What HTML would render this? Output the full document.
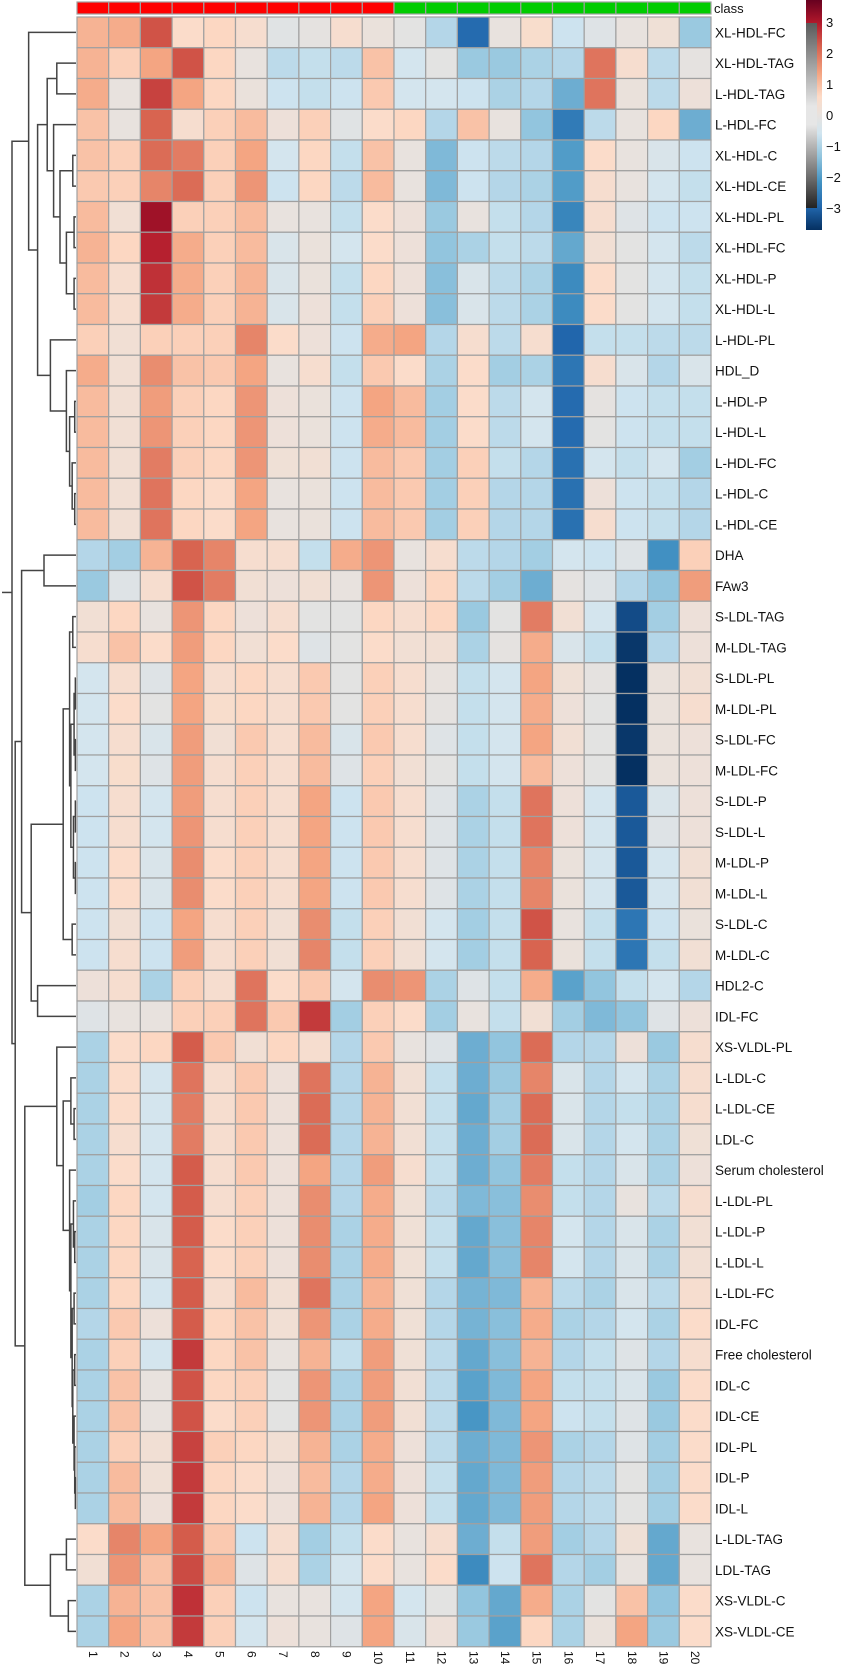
<!DOCTYPE html>
<html><head><meta charset="utf-8"><style>
body{margin:0;background:#fff;}
svg{display:block;font-family:"Liberation Sans","DejaVu Sans",sans-serif;}
</style></head><body>
<svg id="chart" width="845" height="1667" viewBox="0 0 845 1667" xmlns="http://www.w3.org/2000/svg">
<defs>
<linearGradient id="lg" x1="0" y1="0" x2="0" y2="1">
<stop offset="0" stop-color="#67001F"/><stop offset="0.1" stop-color="#B2182B"/><stop offset="0.2" stop-color="#D6604D"/><stop offset="0.32" stop-color="#F4A582"/><stop offset="0.42" stop-color="#FDDBC7"/><stop offset="0.5" stop-color="#e8e2de"/><stop offset="0.58" stop-color="#D1E5F0"/><stop offset="0.68" stop-color="#92C5DE"/><stop offset="0.79" stop-color="#4393C3"/><stop offset="0.9" stop-color="#2166AC"/><stop offset="1" stop-color="#053061"/>
</linearGradient>
<linearGradient id="lgg" x1="0" y1="0" x2="0" y2="1">
<stop offset="0" stop-color="#5a5a5a"/><stop offset="0.45" stop-color="#e6e6e6"/><stop offset="0.55" stop-color="#e6e6e6"/><stop offset="0.85" stop-color="#666"/><stop offset="1" stop-color="#222"/>
</linearGradient>
</defs>
<g id="dendro"></g>
<g id="cells"></g>
<g id="classbar"></g>
<g id="rowlabels"></g>
<g id="collabels"></g>
<g id="legend">
<rect x="806" y="0" width="16" height="230" fill="url(#lg)"/>
<rect x="806" y="23" width="11" height="185" fill="url(#lgg)"/>
</g>
</svg>
<script>
const rowNames=["XL-HDL-FC","XL-HDL-TAG","L-HDL-TAG","L-HDL-FC","XL-HDL-C","XL-HDL-CE","XL-HDL-PL","XL-HDL-FC","XL-HDL-P","XL-HDL-L","L-HDL-PL","HDL_D","L-HDL-P","L-HDL-L","L-HDL-FC","L-HDL-C","L-HDL-CE","DHA","FAw3","S-LDL-TAG","M-LDL-TAG","S-LDL-PL","M-LDL-PL","S-LDL-FC","M-LDL-FC","S-LDL-P","S-LDL-L","M-LDL-P","M-LDL-L","S-LDL-C","M-LDL-C","HDL2-C","IDL-FC","XS-VLDL-PL","L-LDL-C","L-LDL-CE","LDL-C","Serum cholesterol","L-LDL-PL","L-LDL-P","L-LDL-L","L-LDL-FC","IDL-FC","Free cholesterol","IDL-C","IDL-CE","IDL-PL","IDL-P","IDL-L","L-LDL-TAG","LDL-TAG","XS-VLDL-C","XS-VLDL-CE"];
const colNames=["1","2","3","4","5","6","7","8","9","10","11","12","13","14","15","16","17","18","19","20"];
const classes=["a","a","a","a","a","a","a","a","a","a","b","b","b","b","b","b","b","b","b","b"];
const legendTicks=[3,2,1,0,-1,-2,-3];
const values=[
[1.0,1.1,2.2,0.4,0.5,0.3,-0.15,-0.05,0.3,0.05,-0.1,-0.8,-2.8,0,0.35,-0.5,-0.2,0,0.15,-1.1],
[1.0,0.6,1.2,2.2,0.5,0,-0.7,-0.6,-0.7,0.8,-0.4,-0.1,-1.1,-1.1,-0.9,-0.8,1.8,0.3,-0.7,-0.05],
[1.1,0,2.4,1.2,0.5,0.05,-0.5,-0.6,-0.5,0.7,-0.4,-0.4,-0.5,-0.9,-0.8,-1.6,1.8,0.05,-0.7,0.1],
[0.8,0,2.0,0.3,0.6,0.9,0.1,0.6,-0.15,0.4,0.5,-0.8,0.8,0,-1.2,-2.5,-0.7,0,0.5,-1.6],
[0.8,0.6,1.9,1.7,0.6,1.2,-0.4,0.5,-0.6,0.8,0,-1.4,-0.5,-0.7,-0.8,-1.9,0.4,0,-0.3,-0.5],
[0.7,0.6,1.6,1.9,0.6,1.4,-0.5,0.5,-0.7,0.9,0,-1.4,-0.5,-0.8,-0.9,-1.9,0.3,0,-0.4,-0.6],
[0.9,0.2,3.1,0.6,0.6,0.9,0,0,-0.6,0.4,0.1,-1.1,0,-0.6,-0.8,-2.3,0.3,-0.2,-0.5,-0.5],
[1.0,0.5,2.8,1.1,0.6,0.9,-0.3,0.05,-0.4,0.4,0.1,-1.2,-0.9,-0.6,-0.7,-1.7,0.2,-0.1,-0.4,-0.7],
[0.9,0.3,2.6,1.1,0.6,1.0,-0.3,0.05,-0.6,0.5,0.1,-1.3,-0.3,-0.7,-0.9,-2.2,0.4,-0.1,-0.4,-0.6],
[0.9,0.3,2.5,1.1,0.6,1.0,-0.3,0.1,-0.6,0.6,0.1,-1.3,-0.3,-0.7,-0.9,-2.2,0.4,-0.1,-0.4,-0.6],
[0.6,0.2,0.6,0.6,0.6,1.6,0.4,0.1,-0.5,1.1,1.2,-0.8,0.3,-0.7,0.3,-2.9,-0.6,-0.6,-0.7,-0.7],
[1.1,0.2,1.5,0.8,0.7,1.2,0,0.3,-0.6,0.7,0.4,-0.9,0.4,-1.0,-0.9,-2.6,0.3,-0.3,-0.8,-0.3],
[0.9,0.2,1.3,0.6,0.5,1.4,0.1,0.05,-0.5,1.2,0.9,-1.0,0.4,-0.7,-0.4,-2.8,-0.05,-0.5,-0.6,-0.6],
[0.9,0.2,1.4,0.6,0.5,1.4,0.1,0.05,-0.5,1.1,0.9,-1.0,0.4,-0.7,-0.4,-2.8,-0.1,-0.5,-0.6,-0.6],
[0.9,0.2,1.7,0.6,0.5,1.4,0.15,0.2,-0.5,0.9,0.7,-1.0,0.6,-0.6,-0.8,-2.7,-0.4,-0.6,-0.4,-1.0],
[0.9,0.2,1.8,0.5,0.4,1.2,0,0.05,-0.5,0.9,0.7,-1.0,0.6,-0.8,-0.8,-2.7,0.1,-0.5,-0.6,-0.8],
[0.9,0.2,1.8,0.5,0.4,1.2,0,0.05,-0.5,0.9,0.7,-1.0,0.6,-0.8,-0.8,-2.7,0.3,-0.5,-0.6,-0.8],
[-0.8,-1.0,1.0,2.0,1.6,0.3,0.3,-0.6,1.1,1.4,0,0.3,-0.7,-0.8,-1.0,-0.4,-0.5,-0.2,-2.1,0.6],
[-1.1,-0.2,0.3,2.2,1.7,0.2,0.1,0.2,0,1.4,0.1,0.5,-0.7,-1.0,-1.6,-0.05,-0.2,-0.8,-1.2,1.3],
[0.2,0.5,0,1.4,0.5,0.1,0.3,-0.1,-0.1,0.5,0.3,0.5,-1.1,-0.1,1.7,0.2,-0.4,-3.3,-1.0,0.1],
[0.3,0.8,0.4,1.3,0.5,0.2,0.4,-0.2,-0.1,0.4,0.2,0.2,-0.9,-0.05,1.1,-0.3,-0.6,-3.6,-0.8,0.1],
[-0.4,0.3,-0.2,1.2,0.3,0.5,0.3,0.7,-0.1,0.6,0.3,0,-0.6,-0.4,1.2,0.15,-0.05,-3.7,0.05,0.2],
[-0.4,0.4,-0.1,1.2,0.35,0.5,0.3,0.7,-0.1,0.6,0.3,-0.05,-0.6,-0.4,1.1,0.1,-0.1,-3.7,0.05,0.3],
[-0.4,0.3,-0.3,1.3,0.2,0.7,0.3,0.9,-0.3,0.7,0.3,-0.2,-0.6,-0.4,1.2,0.2,-0.1,-3.6,0.05,0.1],
[-0.4,0.35,-0.2,1.3,0.3,0.6,0.3,0.9,-0.2,0.6,0.2,-0.1,-0.6,-0.4,0.9,0.1,-0.1,-3.7,0.05,0.1],
[-0.5,0.3,-0.4,1.3,0.3,0.6,0.3,1.2,-0.5,0.7,0.3,-0.2,-0.9,-0.6,1.8,0.1,-0.4,-3.1,-0.3,0.1],
[-0.5,0.3,-0.4,1.4,0.3,0.6,0.3,1.2,-0.5,0.7,0.3,-0.2,-0.9,-0.6,1.8,0.1,-0.4,-3.1,-0.2,0.1],
[-0.5,0.4,-0.3,1.5,0.4,0.6,0.3,1.2,-0.5,0.7,0.3,-0.2,-0.9,-0.6,1.6,0.05,-0.4,-3.1,-0.4,0.2],
[-0.5,0.4,-0.3,1.5,0.4,0.6,0.3,1.2,-0.5,0.7,0.3,-0.2,-0.9,-0.6,1.6,0.05,-0.4,-3.1,-0.4,0.2],
[-0.5,0.2,-0.5,1.2,0.3,0.6,0.2,1.5,-0.6,0.6,0.2,-0.4,-1.0,-0.6,2.2,0,-0.6,-2.6,-0.5,0.05],
[-0.5,0.3,-0.5,1.3,0.3,0.6,0.2,1.6,-0.6,0.6,0.2,-0.4,-1.0,-0.6,2.0,0.05,-0.6,-2.6,-0.6,0.2],
[0.1,0.3,-0.9,0.6,0.3,1.8,0.4,0.7,-0.4,1.5,1.4,-0.9,-0.2,-0.6,1.1,-1.8,-1.2,-0.6,-0.4,-0.8],
[-0.2,0,0,0.6,0.6,1.8,0.7,2.5,-1.0,0.6,0.4,-1.0,0,-0.6,0.2,-1.0,-1.4,-1.2,-0.2,0.1],
[-0.9,0.4,0.5,2.1,0.7,0.2,0.5,0.3,-0.8,0.7,0,-0.2,-1.6,-1.2,1.9,-0.8,-0.8,0.1,-1.1,0.3],
[-0.9,0.4,-0.4,1.8,0.3,0.7,0.1,1.8,-0.8,1.0,0.2,-0.6,-1.6,-1.1,1.6,-0.3,-0.8,-0.4,-0.9,0.3],
[-0.9,0.4,-0.4,1.7,0.3,0.7,0.1,1.9,-0.8,1.0,0.2,-0.6,-1.7,-1.0,1.9,-0.3,-0.8,-0.6,-0.9,0.3],
[-0.9,0.3,-0.4,1.7,0.3,0.7,0.1,1.9,-0.8,1.0,0.2,-0.6,-1.6,-1.0,1.9,-0.3,-0.8,-0.4,-0.9,0.15],
[-0.9,0.4,-0.4,2.1,0.3,0.7,0.1,1.2,-0.8,1.3,0.3,-0.6,-1.6,-1.2,1.7,-0.6,-0.8,-0.3,-0.9,0.1],
[-1.0,0.5,-0.4,2.1,0.3,0.6,0.1,1.5,-0.8,1.1,0.15,-0.7,-1.4,-1.3,1.5,-0.6,-0.8,0,-0.7,0.3],
[-0.9,0.5,-0.3,2.1,0.4,0.6,0.1,1.5,-0.9,1.1,0.15,-0.6,-1.7,-1.3,1.6,-0.4,-0.8,-0.3,-0.9,0.2],
[-0.9,0.5,-0.3,2.0,0.4,0.6,0.1,1.5,-0.9,1.1,0.15,-0.6,-1.7,-1.3,1.6,-0.4,-0.8,-0.3,-0.9,0.2],
[-0.9,0.5,-0.4,2.1,0.3,0.9,0.2,1.8,-0.9,1.0,0.15,-0.8,-1.5,-1.4,1.0,-0.7,-0.9,-0.3,-0.7,0.3],
[-0.8,0.7,0.1,2.1,0.5,0.8,0.2,1.4,-0.9,1.1,0.15,-0.8,-1.5,-1.3,1.1,-0.9,-0.8,-0.4,-0.9,0.4],
[-0.9,0.6,-0.4,2.5,0.5,0.8,0,1.0,-0.6,1.3,0.15,-0.7,-1.7,-1.3,1.0,-0.8,-0.6,-0.2,-0.8,0.3],
[-0.9,0.8,0,2.2,0.5,0.6,-0.1,1.4,-0.9,1.3,0.2,-0.7,-1.8,-1.4,1.2,-0.6,-0.6,-0.3,-1.1,0.4],
[-0.9,0.8,0,2.2,0.4,0.6,-0.1,1.4,-0.9,1.3,0.2,-0.7,-2.0,-1.4,1.2,-0.5,-0.6,-0.2,-1.1,0.4],
[-0.9,0.6,0.2,2.4,0.6,0.5,0.2,1.0,-0.9,1.1,0.1,-0.7,-1.6,-1.4,1.4,-0.9,-0.8,-0.2,-1.0,0.4],
[-0.9,0.9,0.15,2.5,0.5,0.4,0.1,0.9,-0.8,1.1,0.1,-0.6,-1.7,-1.4,1.3,-0.8,-0.7,-0.1,-1.0,0.4],
[-0.9,0.9,0.1,2.5,0.5,0.4,0.1,1.0,-0.8,1.2,0.1,-0.6,-1.7,-1.4,1.3,-0.8,-0.7,-0.1,-1.0,0.4],
[0.4,1.6,1.2,2.1,0.7,-0.5,0.3,-1.0,-0.6,0.4,0,0.3,-1.6,-0.6,1.3,-1.0,-0.8,0.15,-1.7,0],
[0.2,1.4,0.8,2.3,0.9,-0.2,0.3,-0.9,-0.4,0.4,0,0.4,-2.2,-0.5,1.8,-0.8,-1.0,0,-1.7,0],
[-0.9,1.0,0.8,2.6,0.6,-0.5,0,0,-0.4,1.2,-0.4,-0.1,-1.2,-1.7,1.1,-0.9,-0.1,0.8,-1.2,0.4],
[-0.9,1.2,0.8,2.5,0.6,-0.4,0.1,0,-0.2,1.2,-0.3,0.1,-1.1,-1.8,0.5,-0.9,0.05,1.2,-1.1,0.4]
];
function m(h,a,b){return {h:h,a:a,b:b};}
const treeA=m(0.74,0,m(0.6,m(0.45,m(0.3,1,2),m(0.35,3,m(0.25,m(0.05,4,5),m(0.15,m(0.03,6,7),m(0.03,8,9))))),m(0.4,10,m(0.15,11,m(0.1,m(0.02,12,13),m(0.06,14,m(0.02,15,16)))))));
const treeB=m(0.95,m(0.85,m(0.5,17,18),m(0.7,m(0.2,m(0.1,m(0.05,19,20),m(0.08,m(0.03,m(0.01,21,22),m(0.01,23,24)),m(0.04,m(0.01,25,26),m(0.01,27,28)))),m(0.06,29,30)),m(0.6,31,32))),m(0.8,m(0.3,33,m(0.2,m(0.08,34,m(0.03,35,36)),m(0.1,37,m(0.08,m(0.04,38,m(0.02,39,40)),m(0.06,m(0.03,41,42),m(0.05,m(0.02,43,44),m(0.03,45,m(0.02,46,m(0.01,47,48))))))))),m(0.4,m(0.15,49,50),m(0.12,51,52))));
const tree=m(1.0,treeA,treeB);

const NS="http://www.w3.org/2000/svg";
const X0=77,CW=31.7,Y0=17,RH=30.75;
const xPos=c=>X0+c*CW, yPos=r=>Y0+r*RH;
const vToLegY=v=>115-v*31;
const stops=[[-3.7,[5,48,97]],[-2.9,[33,102,172]],[-2.05,[67,147,195]],[-1.2,[146,197,222]],[-0.45,[209,229,240]],[0,[232,226,222]],[0.45,[253,219,199]],[1.2,[244,165,130]],[2.05,[214,96,77]],[2.9,[178,24,43]],[3.7,[103,0,31]]];
function color(v){
  if(v<=stops[0][0])return "rgb("+stops[0][1]+")";
  for(let i=1;i<stops.length;i++){
    if(v<=stops[i][0]){const a=stops[i-1],b=stops[i];const t=(v-a[0])/(b[0]-a[0]);
      return "rgb("+a[1].map((c,k)=>Math.round(c+(b[1][k]-c)*t)).join(",")+")";}
  }
  return "rgb("+stops[stops.length-1][1]+")";
}
function el(tag,attrs,parent){const e=document.createElementNS(NS,tag);for(const k in attrs)e.setAttribute(k,attrs[k]);parent.appendChild(e);return e;}
const gC=document.getElementById("cells");
values.forEach((row,r)=>row.forEach((v,c)=>{
  const e=el("rect",{x:xPos(c),y:yPos(r),width:CW,height:RH,fill:color(v),stroke:"#a0a0a0","stroke-width":1.2},gC);
  
  
}));
const gB=document.getElementById("classbar");
classes.forEach((k,c)=>{
  const e=el("rect",{x:xPos(c),y:2,width:CW,height:12,fill:k==="a"?"#ff0000":"#00cc00",stroke:"#a0a0a0","stroke-width":1.2},gB);
  
  
});
const ct=el("text",{x:714,y:13,"font-size":13,fill:"#111"},gB);ct.textContent="class";


const gR=document.getElementById("rowlabels");
rowNames.forEach((n,r)=>{
  const t=el("text",{x:715,y:yPos(r)+RH/2+5,"font-size":13.5,fill:"#111"},gR);t.textContent=n;
  
  
});
const gL=document.getElementById("collabels");
colNames.forEach((n,c)=>{
  const cx=xPos(c)+CW/2, y=1651;
  const t=el("text",{x:cx-4,y:y,"font-size":12,fill:"#111",transform:"rotate(90 "+(cx-4)+" "+y+")"},gL);t.textContent=n;
  
  
});
const gLeg=document.getElementById("legend");
legendTicks.forEach(v=>{
  const t=el("text",{x:826,y:vToLegY(v)+5,"font-size":13,fill:"#111"},gLeg);t.textContent=v<0?"\u2212"+(-v):String(v);
  
  
});
const gD=document.getElementById("dendro");
const hx=h=>76-h*64;
function draw(n){
  if(typeof n==="number")return {y:yPos(n)+RH/2,x:76};
  const a=draw(n.a),b=draw(n.b),x=hx(n.h);
  const p=el("path",{d:"M"+a.x+" "+a.y+"H"+x+"V"+b.y+"H"+b.x,fill:"none",stroke:"#444","stroke-width":1.5},gD);
  
  
  return {y:(a.y+b.y)/2,x:x};
}
const root=draw(tree);
const rl=el("path",{d:"M"+root.x+" "+root.y+"H2",fill:"none",stroke:"#444","stroke-width":1.5},gD);


</script>
</body></html>
